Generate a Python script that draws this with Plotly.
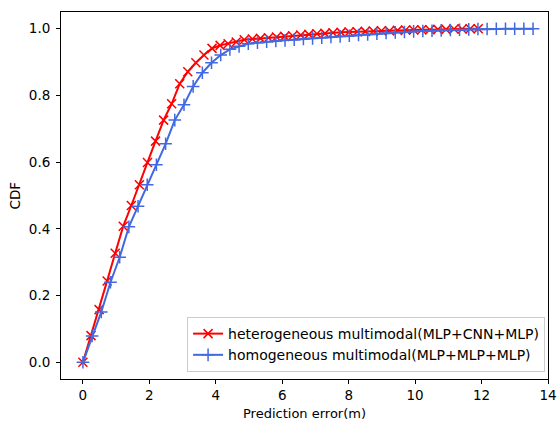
import plotly.graph_objects as go

# Red series: heterogeneous multimodal (MLP+CNN+MLP)
hetero_x = [0.0, 0.243, 0.486, 0.729, 0.971, 1.214, 1.457, 1.700, 1.943, 2.186,
            2.429, 2.671, 2.914, 3.157, 3.400, 3.643, 3.886, 4.129, 4.371, 4.614,
            4.857, 5.100, 5.343, 5.586, 5.829, 6.071, 6.314, 6.557, 6.800, 7.043,
            7.286, 7.529, 7.771, 8.014, 8.257, 8.500, 8.743, 8.986, 9.229, 9.471,
            9.714, 9.957, 10.200, 10.443, 10.686, 10.929, 11.171, 11.414, 11.657, 11.900]
hetero_y = [0.0, 0.080, 0.158, 0.244, 0.327, 0.408, 0.470, 0.532, 0.599, 0.663,
            0.726, 0.775, 0.835, 0.871, 0.898, 0.921, 0.941, 0.950, 0.955, 0.960,
            0.967, 0.969, 0.971, 0.973, 0.975, 0.977, 0.979, 0.981, 0.983, 0.985,
            0.986, 0.988, 0.989, 0.990, 0.991, 0.992, 0.993, 0.994, 0.994, 0.995,
            0.996, 0.996, 0.997, 0.997, 0.998, 0.998, 0.999, 0.999, 1.0, 1.0]

# Blue series: homogeneous multimodal (MLP+MLP+MLP)
homo_x = [0.0, 0.277, 0.553, 0.830, 1.106, 1.383, 1.659, 1.936, 2.212, 2.489,
          2.765, 3.042, 3.318, 3.595, 3.871, 4.148, 4.424, 4.701, 4.978, 5.254,
          5.531, 5.807, 6.084, 6.360, 6.637, 6.913, 7.190, 7.466, 7.743, 8.019,
          8.296, 8.572, 8.849, 9.126, 9.402, 9.679, 9.955, 10.232, 10.508, 10.785,
          11.061, 11.338, 11.614, 11.891, 12.167, 12.444, 12.720, 12.997, 13.273, 13.550]
homo_y = [0.0, 0.079, 0.151, 0.240, 0.315, 0.406, 0.468, 0.532, 0.592, 0.655,
          0.726, 0.772, 0.827, 0.868, 0.898, 0.921, 0.938, 0.947, 0.955, 0.958,
          0.961, 0.963, 0.965, 0.967, 0.969, 0.971, 0.973, 0.975, 0.977, 0.979,
          0.981, 0.983, 0.985, 0.987, 0.989, 0.990, 0.992, 0.993, 0.994, 0.995,
          0.996, 0.997, 0.998, 0.999, 0.999, 1.0, 1.0, 1.0, 1.0, 1.0]

names = ["heterogeneous multimodal(MLP+CNN+MLP)", "homogeneous multimodal(MLP+MLP+MLP)"]
x_ticks = [0, 2, 4, 6, 8, 10, 12, 14]
y_ticks = [0.0, 0.2, 0.4, 0.6, 0.8, 1.0]
y_tick_labels = ["0.0", "0.2", "0.4", "0.6", "0.8", "1.0"]
x_title = "Prediction error(m)"
y_title = "CDF"

FONT = "DejaVu Sans"

fig = go.Figure()
fig.add_trace(go.Scatter(
    x=hetero_x, y=hetero_y, mode="lines+markers", name=names[0],
    line=dict(color="#ff0000", width=2),
    marker=dict(symbol="x-thin", size=9, line=dict(color="#ff0000", width=1.5)),
))
fig.add_trace(go.Scatter(
    x=homo_x, y=homo_y, mode="lines+markers", name=names[1],
    line=dict(color="#4169e1", width=2),
    marker=dict(symbol="cross-thin", size=9, line=dict(color="#4169e1", width=1.5)),
))

axis_common = dict(
    showgrid=False, zeroline=False, showline=True, linecolor="black", linewidth=1,
    mirror=True, ticks="outside", ticklen=4, tickcolor="black", tickwidth=1,
    tickfont=dict(family=FONT, size=13.5, color="black"),
    automargin=False,
)
fig.update_xaxes(range=[-0.66, 14.0], tickvals=x_ticks, ticklabelstandoff=0,
                 **axis_common)
fig.update_yaxes(range=[-0.05, 1.05], tickvals=y_ticks, ticktext=y_tick_labels,
                 ticklabelstandoff=3, **axis_common)

# axis titles as annotations (placed like the reference)
fig.add_annotation(text=x_title, xref="paper", yref="paper", x=0.5, y=-0.1165,
                   xanchor="center", yanchor="bottom", showarrow=False, borderpad=0,
                   font=dict(family=FONT, size=13, color="black"))
fig.add_annotation(text=y_title, xref="paper", yref="paper", x=-0.0945, y=0.5,
                   xanchor="center", yanchor="middle", showarrow=False, textangle=-90,
                   font=dict(family=FONT, size=13.5, color="black"))

fig.update_layout(
    width=558, height=422,
    margin=dict(l=61, r=10, t=12, b=43),
    plot_bgcolor="white", paper_bgcolor="white",
    font=dict(family=FONT, size=13.5, color="black"),
    legend=dict(x=0.994, y=0.019, xanchor="right", yanchor="bottom",
                bgcolor="rgba(255,255,255,0.8)", bordercolor="#cccccc", borderwidth=1,
                font=dict(family=FONT, size=14, color="black"),
                itemwidth=30, tracegroupgap=0),
)

fig.write_html("out.html")
